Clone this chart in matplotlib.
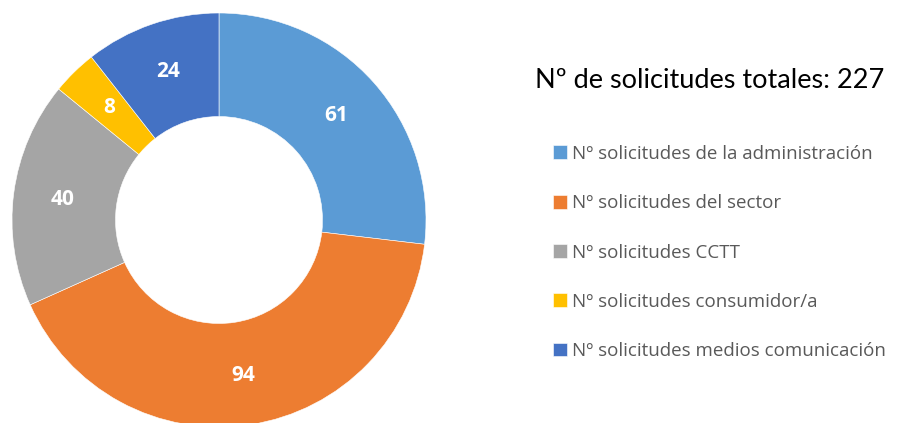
import matplotlib

matplotlib.use("Agg")
import matplotlib.pyplot as plt

categories = [
    "Nº solicitudes de la administración",
    "Nº solicitudes del sector",
    "Nº solicitudes CCTT",
    "Nº solicitudes consumidor/a",
    "Nº solicitudes medios comunicación",
]
values = [61, 94, 40, 8, 24]
colors = ["#5B9BD5", "#ED7D31", "#A5A5A5", "#FFC000", "#4472C4"]
title = "Nº de solicitudes totales: 227"

W, H = 902, 423
fig = plt.figure(figsize=(W / 100, H / 100), dpi=100)

# donut axes: centre ~ (219, 203 from bottom), radius ~207 px
r_px = 207
cx, cy = 219, 203
ax = fig.add_axes([(cx - r_px) / W, (cy - r_px) / H, 2 * r_px / W, 2 * r_px / H])
total = sum(values)
wedges, _, autotexts = ax.pie(
    values,
    colors=colors,
    startangle=90,
    counterclock=False,
    radius=1,
    wedgeprops={"width": 0.5, "edgecolor": "white", "linewidth": 0.4},
    autopct=lambda p: f"{round(p * total / 100):d}",
    pctdistance=0.76,
    textprops={"color": "white", "fontsize": 15, "fontweight": "bold", "family": "Open Sans"},
)
ax.set_xlim(-1, 1)
ax.set_ylim(-1, 1)
ax.set_aspect("equal")
ax.axis("off")

fig.text(535 / W, 1 - 80 / H, title, fontsize=19.5, family="Lato", color="black",
         ha="left", va="center")

fig.legend(
    wedges,
    categories,
    loc="upper left",
    bbox_to_anchor=(536 / W, 1 - 128 / H),
    frameon=False,
    handlelength=0.75,
    handleheight=0.75,
    handletextpad=0.25,
    labelspacing=1.67,
    labelcolor="#595959",
    prop={"family": "Open Sans", "size": 13.5},
)

fig.savefig("out.png", dpi=100)
